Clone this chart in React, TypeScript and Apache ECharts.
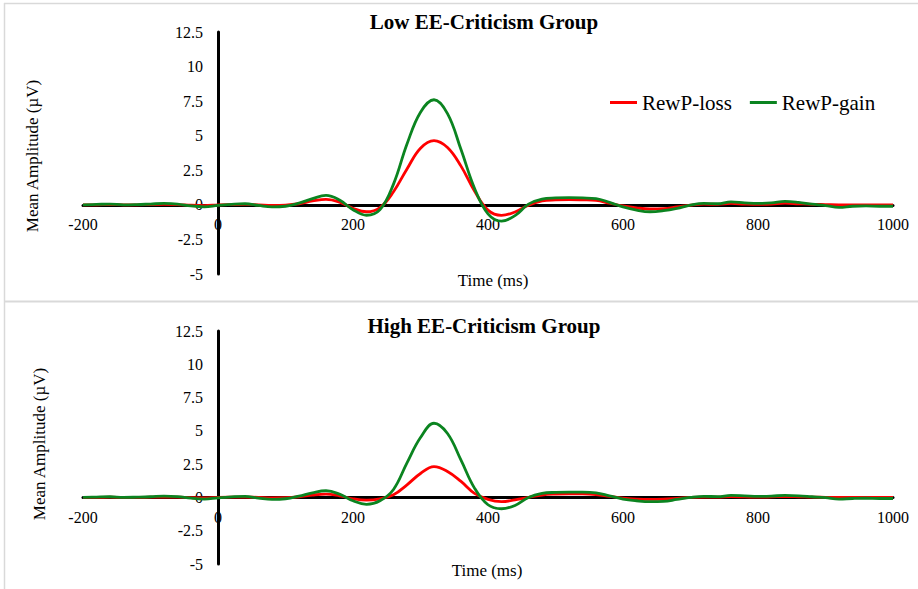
import React, { useEffect, useRef } from "react";
import * as echarts from "echarts";

const times = [
  -200, -180, -160, -140, -120, -100, -80, -60, -40, -20, 0, 20, 40, 60, 80, 100, 120, 140, 160, 180,
  200, 220, 240, 260, 280, 300, 320, 340, 360, 380, 400, 420, 440, 460, 480, 500, 520, 540, 560, 580,
  600, 620, 640, 660, 680, 700, 720, 740, 760, 780, 800, 820, 840, 860, 880, 900, 920, 940, 960, 980, 1000,
];

const lowLoss = [
  0.0, 0.0, 0.02, 0.0, 0.0, 0.02, 0.03, 0.02, -0.03, -0.05, 0.0, 0.02, 0.03, 0.0, -0.04, -0.02, 0.08, 0.28, 0.4, 0.2,
  -0.25, -0.5, -0.2, 0.95, 2.6, 4.1, 4.65, 4.15, 2.8, 1.0, -0.38, -0.76, -0.52, -0.02, 0.28, 0.36, 0.38, 0.36, 0.32, 0.12,
  -0.08, -0.22, -0.3, -0.27, -0.15, -0.02, 0.05, 0.04, 0.1, 0.06, 0.04, 0.06, 0.12, 0.08, 0.04, 0.02, 0.0, 0.0, 0.0, 0.0, 0.0,
];

const lowGain = [
  0.0, 0.03, 0.06, 0.0, 0.02, 0.06, 0.1, 0.06, -0.08, -0.14, -0.03, 0.04, 0.08, -0.04, -0.14, -0.1, 0.12, 0.45, 0.68, 0.35,
  -0.35, -0.75, -0.35, 1.5, 4.4, 6.7, 7.6, 6.6, 4.0, 1.2, -0.65, -1.18, -0.78, 0.05, 0.42, 0.5, 0.52, 0.5, 0.45, 0.18,
  -0.15, -0.38, -0.5, -0.42, -0.25, -0.02, 0.1, 0.08, 0.22, 0.15, 0.1, 0.14, 0.25, 0.18, 0.05, -0.05, -0.18, -0.1, -0.08, -0.1, -0.1,
];

const highLoss = [
  0.0, 0.0, 0.02, 0.0, 0.0, 0.02, 0.03, 0.02, -0.02, -0.04, 0.0, 0.02, 0.03, 0.0, -0.03, -0.02, 0.05, 0.18, 0.25, 0.12,
  -0.1, -0.2, -0.1, 0.2, 0.95, 1.8, 2.31, 1.95, 1.2, 0.3, -0.15, -0.32, -0.18, 0.0, 0.18, 0.25, 0.27, 0.27, 0.22, 0.08,
  -0.05, -0.12, -0.15, -0.13, -0.07, 0.0, 0.03, 0.02, 0.06, 0.04, 0.02, 0.04, 0.07, 0.05, 0.02, 0.01, 0.0, 0.0, 0.0, 0.0, 0.0,
];

const highGain = [
  0.0, 0.03, 0.05, 0.0, 0.02, 0.05, 0.1, 0.06, -0.06, -0.12, -0.03, 0.04, 0.08, -0.05, -0.15, -0.1, 0.1, 0.35, 0.5, 0.25,
  -0.25, -0.52, -0.25, 0.6, 2.6, 4.5, 5.57, 4.8, 2.8, 0.7, -0.55, -0.85, -0.6, 0.0, 0.3, 0.38, 0.4, 0.4, 0.35, 0.12,
  -0.12, -0.25, -0.32, -0.3, -0.15, 0.0, 0.08, 0.06, 0.15, 0.12, 0.08, 0.1, 0.15, 0.12, 0.05, -0.02, -0.12, -0.08, -0.06, -0.08, -0.08,
];

const xMin = -200;
const xMax = 1000;
const xStep = 200;
const yMin = -5;
const yMax = 12.5;
const yStep = 2.5;

const seriesNames = ["RewP-loss", "RewP-gain"];
const panelTitles = ["Low EE-Criticism Group", "High EE-Criticism Group"];
const yAxisTitle = "Mean Amplitude (µV)";
const xAxisTitle = "Time (ms)";

const FONT = "'Liberation Serif', 'Times New Roman', serif";
const RED = "#ff0000";
const GREEN = "#0b8420";
const BORDER = "#d9d9d9";

function pairs(vals: number[]) {
  return times.map((t, i) => [t, vals[i]]);
}

function txt(text: string, x: number, y: number, size: number, bold = false, rotate = 0) {
  return {
    type: "text",
    x,
    y,
    rotation: rotate,
    z: 10,
    style: {
      text,
      fill: "#000",
      font: `${bold ? "bold " : ""}${size}px ${FONT}`,
      textAlign: "center",
      textVerticalAlign: "middle",
      align: "center",
      verticalAlign: "middle",
    },
  };
}

export default function App() {
  const ref = useRef<HTMLDivElement>(null);

  useEffect(() => {
    document.body.style.margin = "0";
    const chart = echarts.init(ref.current as HTMLDivElement, null, { renderer: "svg" });

    const W = 918;
    const grids = [
      { left: 83, right: 25, top: 32, height: 242 },
      { left: 83, right: 25, top: 331, height: 233 },
    ];
    const plotW = W - grids[0].left - grids[0].right;
    // shift axes so they cross at the data origin (0, 0)
    const xOffset = (gi: number) => -((0 - yMin) / (yMax - yMin)) * grids[gi].height;
    const yOffset = -((0 - xMin) / (xMax - xMin)) * plotW;

    const mkX = (gi: number) => ({
      type: "value",
      gridIndex: gi,
      position: "bottom",
      offset: xOffset(gi),
      min: xMin,
      max: xMax,
      interval: xStep,
      axisLine: { show: true, onZero: false, lineStyle: { color: "#000", width: 3 } },
      axisTick: { show: false },
      splitLine: { show: false },
      axisLabel: {
        color: "#000",
        fontFamily: FONT,
        fontSize: 16,
        margin: 12,
        formatter: (v: number) => String(v),
      },
    });
    const mkY = (gi: number) => ({
      type: "value",
      gridIndex: gi,
      position: "left",
      offset: yOffset,
      min: yMin,
      max: yMax,
      interval: yStep,
      axisLine: { show: true, onZero: false, lineStyle: { color: "#000", width: 3 } },
      axisTick: { show: false },
      splitLine: { show: false },
      axisLabel: {
        color: "#000",
        fontFamily: FONT,
        fontSize: 16,
        margin: 15,
        formatter: (v: number) => String(v),
      },
    });
    const mkS = (name: string, vals: number[], color: string, gi: number) => ({
      type: "line",
      name,
      xAxisIndex: gi,
      yAxisIndex: gi,
      data: pairs(vals),
      smooth: 0.4,
      showSymbol: false,
      symbol: "none",
      z: 3,
      lineStyle: { color, width: 2.8 },
      itemStyle: { color },
    });

    chart.setOption({
      animation: false,
      backgroundColor: "#fff",
      grid: grids,
      xAxis: [mkX(0), mkX(1)],
      yAxis: [mkY(0), mkY(1)],
      legend: {
        data: seriesNames,
        left: 610,
        top: 92,
        padding: 0,
        icon: "rect",
        itemWidth: 27,
        itemHeight: 3,
        itemGap: 18,
        textStyle: { color: "#000", fontFamily: FONT, fontSize: 21 },
      },
      series: [
        mkS(seriesNames[0], lowLoss, RED, 0),
        mkS(seriesNames[1], lowGain, GREEN, 0),
        mkS(seriesNames[0], highLoss, RED, 1),
        mkS(seriesNames[1], highGain, GREEN, 1),
      ],
      graphic: [
        { type: "line", shape: { x1: 4, y1: 3.5, x2: 918, y2: 3.5 }, style: { stroke: BORDER, lineWidth: 1.5 } },
        { type: "line", shape: { x1: 4.5, y1: 3, x2: 4.5, y2: 589 }, style: { stroke: BORDER, lineWidth: 1.5 } },
        { type: "line", shape: { x1: 4, y1: 301.5, x2: 918, y2: 301.5 }, style: { stroke: BORDER, lineWidth: 2 } },
        txt(panelTitles[0], 484, 22, 21, true),
        txt(panelTitles[1], 484, 326, 21, true),
        txt(yAxisTitle, 32, 156, 17, false, Math.PI / 2),
        txt(yAxisTitle, 39, 444, 17, false, Math.PI / 2),
        txt(xAxisTitle, 493, 280, 17),
        txt(xAxisTitle, 487, 570, 17),
      ],
    });

    return () => chart.dispose();
  }, []);

  return <div ref={ref} style={{ width: 918, height: 589 }} />;
}
